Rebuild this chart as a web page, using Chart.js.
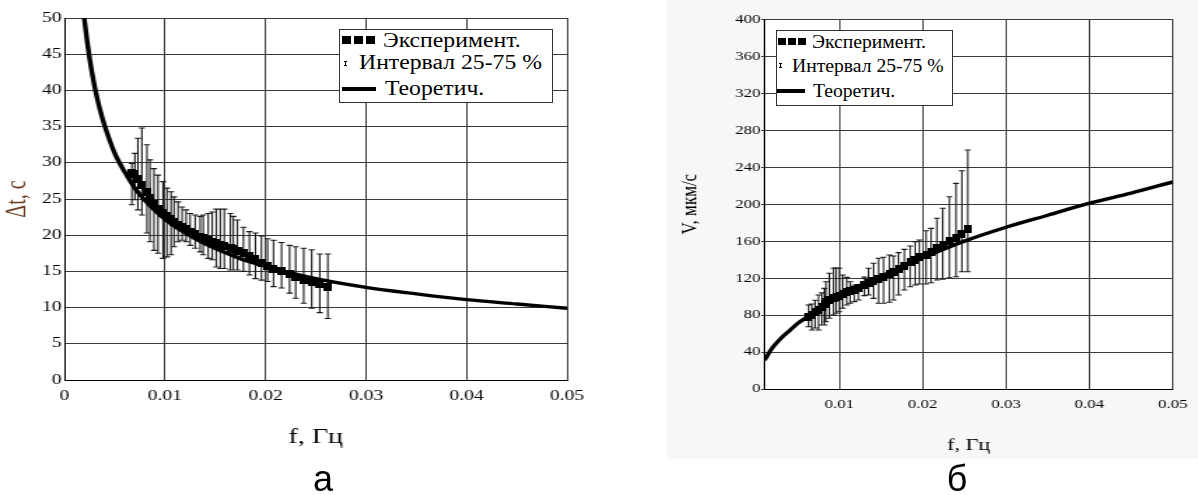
<!DOCTYPE html>
<html><head><meta charset="utf-8">
<script src="https://cdn.jsdelivr.net/npm/chart.js@4.4.1/dist/chart.umd.min.js"></script>
<style>
html,body{margin:0;padding:0;background:#fff;}
body{width:1198px;height:495px;position:relative;overflow:hidden;font-family:'Liberation Serif','Times New Roman',serif;}
#bgB{position:absolute;left:667px;top:0;width:531px;height:459px;background:#f7f8f5;}
.wrap{position:absolute;top:0;transform-origin:0 0;}
#wrapA{left:0;width:430px;height:495px;transform:scaleX(1.4);}
#wrapB{left:600px;width:460px;height:495px;transform:scaleX(1.3);}
.lg{position:absolute;background:#fff;border:1px solid #333;box-sizing:border-box;}
.lg div{position:absolute;background:#000;}
.lg span{position:absolute;white-space:nowrap;line-height:1;color:#000;transform-origin:0 0;font-family:'Liberation Serif','Times New Roman',serif;}
.cap{position:absolute;width:80px;text-align:center;font-family:'Liberation Sans',Arial,sans-serif;font-size:36px;line-height:1;color:#000;}
</style></head>
<body>
<div id="bgB"></div>
<div class="wrap" id="wrapA"><canvas id="cA" width="430" height="495" style="width:430px;height:495px"></canvas></div>
<div class="wrap" id="wrapB"><canvas id="cB" width="460" height="495" style="width:460px;height:495px"></canvas></div>

<div class="lg" id="lgA" style="left:339px;top:29px;width:214px;height:74px;">
  <div style="left:2px;top:6px;width:9px;height:8px"></div>
  <div style="left:14px;top:6px;width:9px;height:8px"></div>
  <div style="left:26px;top:6px;width:9px;height:8px"></div>
  <div style="left:5px;top:31px;width:1px;height:5px"></div>
  <div style="left:4px;top:31px;width:3px;height:1px"></div>
  <div style="left:4px;top:35px;width:3px;height:1px"></div>
  <div style="left:2px;top:57px;width:34px;height:4px"></div>
  <span class="t" style="left:43px;top:0px;font-size:20px;font-family:'Liberation Serif',serif">Эксперимент.</span>
  <span class="t" style="left:19px;top:21.5px;font-size:20px;font-family:'Liberation Serif',serif">Интервал 25-75 %</span>
  <span class="t" style="left:45px;top:47.5px;font-size:20px;font-family:'Liberation Serif',serif">Теоретич.</span>
</div>

<div class="lg" id="lgB" style="left:776px;top:30px;width:177px;height:76px;">
  <div style="left:1px;top:6.7px;width:8px;height:7px"></div>
  <div style="left:11px;top:6.7px;width:8px;height:7px"></div>
  <div style="left:21px;top:6.7px;width:8px;height:7px"></div>
  <div style="left:3px;top:31.7px;width:1px;height:5px"></div>
  <div style="left:2px;top:31.7px;width:3px;height:1px"></div>
  <div style="left:2px;top:35.7px;width:3px;height:1px"></div>
  <div style="left:0px;top:58.3px;width:28px;height:4px"></div>
  <span class="t" style="left:34.7px;top:2.2px;font-size:18px;font-family:'Liberation Serif',serif">Эксперимент.</span>
  <span class="t" style="left:14.7px;top:25.6px;font-size:18px;font-family:'Liberation Serif',serif">Интервал 25-75 %</span>
  <span class="t" style="left:36.3px;top:50.6px;font-size:18px;font-family:'Liberation Serif',serif">Теоретич.</span>
</div>

<div class="cap" style="left:283px;top:461px;">а</div>
<div class="cap" style="left:917px;top:461px;">б</div>

<script>
// ---------- data: panel а (Δt vs f) ----------
const xTicksA = [0, 0.01, 0.02, 0.03, 0.04, 0.05];
const xLabelsA = ['0', '0.01', '0.02', '0.03', '0.04', '0.05'];
const yTicksA = [0, 5, 10, 15, 20, 25, 30, 35, 40, 45, 50];

const fTheoryA  = [0.0019, 0.002, 0.0025, 0.003, 0.0035, 0.004, 0.0045, 0.005, 0.006, 0.007, 0.008, 0.009, 0.010, 0.012, 0.014, 0.016, 0.018, 0.020, 0.025, 0.030, 0.035, 0.040, 0.045, 0.050];
const dtTheoryA = [51.0, 49.6, 44.4, 40.5, 37.5, 35.1, 33.1, 31.3, 28.7, 26.5, 24.8, 23.4, 22.2, 20.3, 18.8, 17.6, 16.5, 15.7, 14.0, 12.8, 11.9, 11.1, 10.5, 9.9];

const fExpA  = [0.0067, 0.0070, 0.0073, 0.0077, 0.0082, 0.0085, 0.0089, 0.0093, 0.0098, 0.0102, 0.0106, 0.0109, 0.0113, 0.0117, 0.0121, 0.0125, 0.0130, 0.0135, 0.0138, 0.0143, 0.0147, 0.0151, 0.0155, 0.0159, 0.0165, 0.0168, 0.0172, 0.0178, 0.0184, 0.0190, 0.0196, 0.0202, 0.0208, 0.0216, 0.0224, 0.0230, 0.0238, 0.0246, 0.0254, 0.0262];
const dtExpA = [28.6, 28.4, 27.8, 27.0, 25.9, 25.1, 24.3, 23.6, 23.0, 22.6, 22.2, 21.8, 21.4, 21.1, 20.8, 20.5, 20.1, 19.8, 19.6, 19.3, 19.1, 18.9, 18.7, 18.5, 18.3, 18.1, 17.8, 17.5, 17.1, 16.7, 16.2, 15.8, 15.4, 15.0, 14.6, 14.2, 13.8, 13.5, 13.2, 12.9];
const dtLoA  = [24.2, 24.9, 23.5, 22.8, 20.3, 19.1, 17.9, 17.5, 16.8, 17.0, 17.3, 18.4, 19.1, 19.3, 19.1, 18.6, 18.2, 17.7, 17.3, 16.8, 16.6, 15.6, 15.4, 15.4, 15.2, 15.2, 15.2, 15.0, 14.5, 14.0, 13.8, 13.6, 12.9, 12.7, 12.0, 11.3, 10.6, 9.9, 9.3, 8.5];
const dtHiA  = [29.9, 31.3, 33.4, 34.8, 32.5, 30.4, 29.2, 28.3, 27.4, 26.5, 26.0, 25.3, 24.6, 23.9, 23.5, 23.0, 22.8, 22.6, 22.8, 23.0, 23.2, 23.6, 23.6, 23.6, 23.0, 22.6, 22.1, 21.1, 20.5, 20.3, 19.9, 19.5, 19.3, 19.0, 18.6, 18.4, 18.2, 18.0, 17.4, 17.4];

// ---------- data: panel б (V vs f) ----------
const xTicksB = [0.01, 0.02, 0.03, 0.04, 0.05];
const xLabelsB = ['0.01', '0.02', '0.03', '0.04', '0.05'];
const yTicksB = [0, 40, 80, 120, 160, 200, 240, 280, 320, 360, 400];

const fTheoryB = [0.001, 0.002, 0.003, 0.004, 0.005, 0.006, 0.008, 0.010, 0.012, 0.015, 0.020, 0.025, 0.030, 0.035, 0.040, 0.045, 0.050];
const vTheoryB = [31, 45, 55, 63, 71, 77, 89, 100, 110, 122, 142, 160, 175, 188, 201, 212, 224];

const fExpB  = [0.0063, 0.0067, 0.0071, 0.0075, 0.0079, 0.0082, 0.0084, 0.0088, 0.0093, 0.0096, 0.0100, 0.0104, 0.0109, 0.0113, 0.0118, 0.0123, 0.0130, 0.0135, 0.0141, 0.0147, 0.0153, 0.0160, 0.0165, 0.0171, 0.0178, 0.0185, 0.0191, 0.0196, 0.0204, 0.0210, 0.0217, 0.0224, 0.0232, 0.0240, 0.0247, 0.0254];
const vExpB  = [78, 80, 83, 86, 89, 92, 94, 96, 98, 99.5, 101, 102.5, 104.5, 106, 107.5, 109.5, 112.5, 114.5, 116.5, 118.5, 121, 124, 126.5, 129.5, 133, 137, 140, 142.5, 145.5, 148.5, 152.5, 156, 160, 163.5, 167.5, 173.5];
const vLoB   = [67.4, 63.8, 66, 63.8, 69.2, 69.2, 72.8, 76.5, 80, 81.9, 83.6, 87.3, 90.9, 92.7, 94.5, 96.3, 101, 101.7, 98.1, 92.7, 92.7, 93.8, 96.3, 101.7, 107.1, 110.7, 112.5, 113.6, 113.6, 115, 117.9, 118.7, 120.4, 121.5, 126.9, 126.9];
const vHiB   = [90.9, 92, 96, 101.7, 104, 108.9, 116.1, 125.2, 130.6, 131.2, 130.6, 123.3, 120.8, 116.1, 112.5, 110.5, 121, 130.6, 136, 141.4, 142.5, 145, 143.9, 147.5, 151.1, 154.7, 159.4, 161.2, 171.3, 173.8, 184.7, 195.5, 208, 222.5, 236.2, 258.6];

// ---------- helpers ----------
const SERIF = "'Liberation Serif', 'Times New Roman', serif";
function pts(xs, ys) { return xs.map((x, i) => ({ x: x, y: ys[i] })); }
function squareImg(w, h) {
  const c = document.createElement('canvas'); c.width = w; c.height = h;
  const g = c.getContext('2d'); g.fillStyle = '#000'; g.fillRect(0, 0, w, h); return c;
}
function errorBars(xs, lo, hi, cap, color) {
  return {
    id: 'errorBars',
    beforeDatasetsDraw(chart) {
      const ctx = chart.ctx, x = chart.scales.x, y = chart.scales.y;
      ctx.save(); ctx.strokeStyle = color; ctx.lineWidth = 1.1; ctx.beginPath();
      xs.forEach((f, i) => {
        const px = x.getPixelForValue(f), a = y.getPixelForValue(lo[i]), b = y.getPixelForValue(hi[i]);
        ctx.moveTo(px, a); ctx.lineTo(px, b);
        ctx.moveTo(px - cap, a); ctx.lineTo(px + cap, a);
        ctx.moveTo(px - cap, b); ctx.lineTo(px + cap, b);
      });
      ctx.stroke(); ctx.restore();
    }
  };
}
const whiteArea = {
  id: 'whiteArea',
  beforeDraw(chart) {
    const a = chart.chartArea, ctx = chart.ctx;
    ctx.save(); ctx.fillStyle = '#fff'; ctx.fillRect(a.left, a.top, a.right - a.left, a.bottom - a.top); ctx.restore();
  }
};

// ---------- chart а ----------
new Chart(document.getElementById('cA'), {
  type: 'scatter',
  data: { datasets: [
    { label: 'Эксперимент.', data: pts(fExpA, dtExpA), showLine: false, pointStyle: squareImg(6, 8), pointRadius: 4, order: 0 },
    { label: 'Теоретич.', data: pts(fTheoryA, dtTheoryA), showLine: true, borderColor: '#000', borderWidth: 3.4, pointRadius: 0, cubicInterpolationMode: 'monotone', clip: 0, order: 1 }
  ]},
  options: {
    responsive: false, animation: false, devicePixelRatio: 1,
    layout: { padding: { left: 0, top: 18, right: 25, bottom: 45 } },
    plugins: { legend: { display: false }, tooltip: { enabled: false } },
    scales: {
      x: {
        type: 'linear', min: 0, max: 0.05,
        afterBuildTicks: s => { s.ticks = xTicksA.map(v => ({ value: v })); },
        afterFit: s => { s.height = 70; },
        grid: { color: '#3a3a3a', lineWidth: 1, drawTicks: false },
        border: { display: true, color: '#000', width: 1 },
        ticks: { color: '#000', font: { family: SERIF, size: 14 }, padding: 8, maxRotation: 0, autoSkip: false, callback: (v, i) => xLabelsA[i] },
        title: { display: true, text: 'f, Гц', color: '#000', font: { family: SERIF, size: 20 }, padding: { top: 0, bottom: 0 } }
      },
      y: {
        type: 'linear', min: 0, max: 50,
        afterBuildTicks: s => { s.ticks = yTicksA.map(v => ({ value: v })); },
        afterFit: s => { s.width = 46.07; },
        grid: { color: '#3a3a3a', lineWidth: 1, drawTicks: false },
        border: { display: true, color: '#000', width: 1 },
        ticks: { color: '#000', font: { family: SERIF, size: 14 }, padding: 2, autoSkip: false, callback: (v, i) => String(yTicksA[i]) },
        title: { display: true, text: 'Δt, с', color: '#6b3a1e', font: { family: SERIF, size: 20 }, padding: { top: 1, bottom: 0 } }
      }
    }
  },
  plugins: [errorBars(fExpA, dtLoA, dtHiA, 2.2, '#1a1a1a')]
});

// ---------- chart б ----------
new Chart(document.getElementById('cB'), {
  type: 'scatter',
  data: { datasets: [
    { label: 'Эксперимент.', data: pts(fExpB, vExpB), showLine: false, pointStyle: squareImg(6, 8), pointRadius: 4, order: 0 },
    { label: 'Теоретич.', data: pts(fTheoryB, vTheoryB), showLine: true, borderColor: '#000', borderWidth: 3.4, pointRadius: 0, cubicInterpolationMode: 'monotone', clip: 0, order: 1 }
  ]},
  options: {
    responsive: false, animation: false, devicePixelRatio: 1,
    layout: { padding: { left: 0, top: 19.3, right: 14.6, bottom: 38 } },
    plugins: { legend: { display: false }, tooltip: { enabled: false } },
    scales: {
      x: {
        type: 'linear', min: 0.001, max: 0.05,
        afterBuildTicks: s => { s.ticks = xTicksB.map(v => ({ value: v })); },
        afterFit: s => { s.height = 68; },
        grid: { color: '#3a3a3a', lineWidth: 1, drawTicks: false },
        border: { display: true, color: '#000', width: 1 },
        ticks: { color: '#000', font: { family: SERIF, size: 13 }, padding: 8, maxRotation: 0, autoSkip: false, callback: (v, i) => xLabelsB[i] },
        title: { display: true, text: 'f, Гц', color: '#000', font: { family: SERIF, size: 17 }, padding: { top: 0, bottom: 0.8 } }
      },
      y: {
        type: 'linear', min: 0, max: 400,
        afterBuildTicks: s => { s.ticks = yTicksB.map(v => ({ value: v })); },
        afterFit: s => { s.width = 126.4; },
        grid: { color: '#3a3a3a', lineWidth: 1, drawTicks: true, tickLength: 2.5 },
        border: { display: true, color: '#000', width: 1 },
        ticks: { color: '#000', font: { family: SERIF, size: 13 }, padding: 0.5, autoSkip: false, callback: (v, i) => String(yTicksB[i]) },
        title: { display: true, text: 'V, мкм/с', color: '#000', font: { family: SERIF, size: 17 }, padding: { top: 59, bottom: 0 } }
      }
    }
  },
  plugins: [whiteArea, errorBars(fExpB, vLoB, vHiB, 2.3, '#1a1a1a')]
});

// fit legend text widths to the reference
function fitLegend(id, target) {
  const spans = Array.from(document.querySelectorAll('#' + id + ' span'));
  const w = spans[1].getBoundingClientRect().width;
  const s = target / w;
  spans.forEach(sp => { sp.style.transform = 'scaleX(' + s + ')'; });
}
fitLegend('lgA', 183);
fitLegend('lgB', 151.5);
</script>
</body></html>
